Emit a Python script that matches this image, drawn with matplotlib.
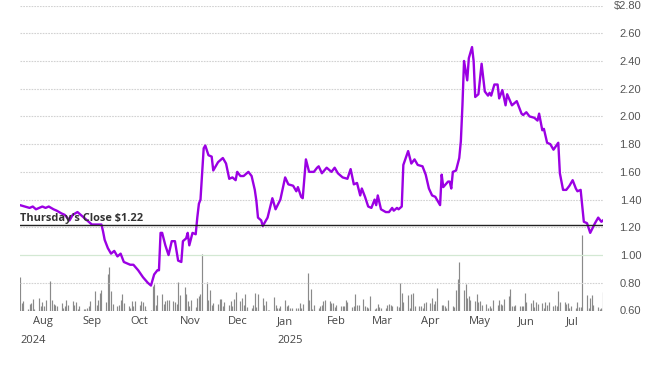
import matplotlib
matplotlib.use("Agg")
import matplotlib.pyplot as plt
import matplotlib.dates as mdates
import numpy as np
import pandas as pd

# closing prices (irregular sample of the daily series)
price_dates = [
    "2024-07-24", "2024-07-27", "2024-07-30", "2024-08-01", "2024-08-03", "2024-08-07", "2024-08-09", "2024-08-11", "2024-08-14", "2024-08-16",
    "2024-08-19", "2024-08-21", "2024-08-24", "2024-08-26", "2024-08-29", "2024-09-01", "2024-09-04", "2024-09-07", "2024-09-10", "2024-09-13",
    "2024-09-14", "2024-09-15", "2024-09-17", "2024-09-19", "2024-09-21", "2024-09-23", "2024-09-25", "2024-09-27", "2024-09-29", "2024-10-01",
    "2024-10-03", "2024-10-06", "2024-10-09", "2024-10-12", "2024-10-14", "2024-10-16", "2024-10-18", "2024-10-19", "2024-10-20", "2024-10-21",
    "2024-10-23", "2024-10-25", "2024-10-27", "2024-10-29", "2024-10-31", "2024-11-02", "2024-11-03", "2024-11-05", "2024-11-06", "2024-11-07",
    "2024-11-09", "2024-11-11", "2024-11-12", "2024-11-13", "2024-11-14", "2024-11-16", "2024-11-17", "2024-11-19", "2024-11-21", "2024-11-22",
    "2024-11-24", "2024-11-25", "2024-11-28", "2024-11-30", "2024-12-02", "2024-12-04", "2024-12-06", "2024-12-07", "2024-12-09", "2024-12-11",
    "2024-12-14", "2024-12-16", "2024-12-18", "2024-12-19", "2024-12-20", "2024-12-22", "2024-12-23", "2024-12-26", "2024-12-29", "2024-12-31",
    "2025-01-03", "2025-01-06", "2025-01-08", "2025-01-11", "2025-01-13", "2025-01-14", "2025-01-16", "2025-01-17", "2025-01-19", "2025-01-21",
    "2025-01-24", "2025-01-26", "2025-01-27", "2025-01-29", "2025-02-01", "2025-02-04", "2025-02-06", "2025-02-08", "2025-02-11", "2025-02-14",
    "2025-02-16", "2025-02-18", "2025-02-20", "2025-02-22", "2025-02-23", "2025-02-25", "2025-02-27", "2025-03-01", "2025-03-03", "2025-03-04",
    "2025-03-05", "2025-03-07", "2025-03-10", "2025-03-12", "2025-03-14", "2025-03-15", "2025-03-17", "2025-03-18", "2025-03-20", "2025-03-21",
    "2025-03-24", "2025-03-26", "2025-03-28", "2025-03-30", "2025-04-02", "2025-04-04", "2025-04-06", "2025-04-08", "2025-04-10", "2025-04-13",
    "2025-04-14", "2025-04-15", "2025-04-18", "2025-04-19", "2025-04-20", "2025-04-21", "2025-04-23", "2025-04-25", "2025-04-26", "2025-04-27",
    "2025-04-28", "2025-04-30", "2025-05-01", "2025-05-03", "2025-05-04", "2025-05-05", "2025-05-07", "2025-05-09", "2025-05-11", "2025-05-13",
    "2025-05-14", "2025-05-15", "2025-05-17", "2025-05-19", "2025-05-20", "2025-05-22", "2025-05-24", "2025-05-25", "2025-05-28", "2025-05-31",
    "2025-06-03", "2025-06-04", "2025-06-06", "2025-06-08", "2025-06-11", "2025-06-13", "2025-06-14", "2025-06-16", "2025-06-17", "2025-06-19",
    "2025-06-21", "2025-06-23", "2025-06-26", "2025-06-27", "2025-06-29", "2025-07-01", "2025-07-03", "2025-07-05", "2025-07-07", "2025-07-08",
    "2025-07-10", "2025-07-12", "2025-07-14", "2025-07-16", "2025-07-19", "2025-07-21", "2025-07-23", "2025-07-24",
]
price_values = [
    1.36, 1.35, 1.34, 1.35, 1.33, 1.35, 1.34, 1.35, 1.33, 1.32,
    1.30, 1.29, 1.25, 1.29, 1.31, 1.28, 1.25, 1.22, 1.22, 1.22,
    1.17, 1.11, 1.05, 1.01, 1.03, 0.99, 1.01, 0.95, 0.94, 0.93,
    0.93, 0.89, 0.84, 0.80, 0.78, 0.86, 0.89, 0.89, 1.16, 1.16,
    1.07, 1.00, 1.10, 1.10, 0.96, 0.95, 1.10, 1.12, 1.16, 1.07,
    1.16, 1.15, 1.27, 1.37, 1.40, 1.77, 1.79, 1.72, 1.71, 1.61,
    1.65, 1.67, 1.70, 1.66, 1.55, 1.56, 1.54, 1.60, 1.57, 1.57,
    1.60, 1.57, 1.47, 1.39, 1.27, 1.25, 1.21, 1.27, 1.41, 1.33,
    1.40, 1.56, 1.51, 1.50, 1.46, 1.49, 1.42, 1.41, 1.69, 1.60,
    1.60, 1.63, 1.64, 1.59, 1.63, 1.60, 1.63, 1.59, 1.56, 1.55,
    1.62, 1.51, 1.52, 1.43, 1.48, 1.42, 1.35, 1.34, 1.40, 1.36,
    1.43, 1.33, 1.31, 1.31, 1.34, 1.32, 1.34, 1.33, 1.35, 1.65,
    1.75, 1.66, 1.69, 1.65, 1.64, 1.58, 1.48, 1.43, 1.42, 1.36,
    1.58, 1.49, 1.53, 1.53, 1.48, 1.60, 1.61, 1.70, 1.82, 2.08,
    2.40, 2.26, 2.42, 2.50, 2.40, 2.14, 2.16, 2.38, 2.18, 2.15,
    2.17, 2.15, 2.23, 2.23, 2.13, 2.19, 2.08, 2.16, 2.08, 2.11,
    2.02, 2.01, 2.03, 2.00, 1.99, 1.97, 2.02, 1.90, 1.91, 1.81,
    1.80, 1.76, 1.81, 1.59, 1.47, 1.47, 1.50, 1.54, 1.48, 1.46,
    1.47, 1.24, 1.23, 1.16, 1.23, 1.27, 1.24, 1.25,
]

# daily volume (thousands), one per trading day from 2024-07-24 to 2025-07-24
volume = [
    333, 77, 93, 20, 63, 80, 120, 17, 130, 43, 83, 43, 110, 293, 110, 63, 53, 47, 77, 27,
    43, 110, 53, 93, 53, 87, 20, 43, 20, 20, 27, 50, 97, 197, 60, 103, 177, 203, 87, 363,
    437, 193, 63, 43, 60, 110, 163, 80, 43, 27, 93, 43, 93, 53, 93, 87, 43, 10, 10, 250,
    270, 53, 153, 163, 63, 93, 110, 110, 97, 87, 70, 283, 160, 237, 163, 97, 43, 110, 37, 130,
    143, 163, 570, 283, 110, 203, 60, 77, 70, 120, 113, 43, 87, 53, 97, 43, 120, 183, 93, 127,
    53, 163, 37, 27, 53, 177, 37, 170, 130, 53, 93, 10, 10, 133, 53, 27, 27, 43, 103, 43,
    60, 27, 27, 27, 27, 77, 27, 70, 377, 103, 213, 20, 53, 27, 43, 60, 97, 103, 93,
    77, 77, 37, 53, 43, 43, 43, 103, 87, 37, 50, 163, 53, 53, 120, 43, 37, 27, 143, 20,
    27, 63, 37, 27, 27, 53, 63, 60, 43, 43, 37, 277, 177, 87, 153, 27, 163, 177, 43, 43,
    43, 27, 77, 87, 77, 127, 70, 93, 227, 60, 60, 43, 27, 110, 43, 37, 210, 320, 483, 203,
    263, 127, 143, 103, 97, 163, 87, 93, 60, 70, 27, 43, 27, 103, 60, 103, 70, 53, 120, 143,
    213, 43, 43, 60, 43, 43, 43, 177, 87, 77, 103, 37, 87, 70, 77, 27, 87, 53, 87, 43,
    53, 43, 193, 87, 87, 70, 77, 27, 43, 27, 87, 37, 37, 755, 153, 27, 130, 153, 53, 37,
    20, 27, 183,
]

close_price = 1.22
close_label = "Thursday's Close $1.22"
price_ticks = [0.60, 0.80, 1.00, 1.20, 1.40, 1.60, 1.80, 2.00, 2.20, 2.40, 2.60, 2.80]
price_tick_labels = ["0.60", "0.80", "1.00", "1.20", "1.40", "1.60", "1.80",
                     "2.00", "2.20", "2.40", "2.60", "$2.80"]

plt.rcParams['font.family'] = ['Open Sans', 'DejaVu Sans']

dates = pd.to_datetime(price_dates)
vol_dates = pd.bdate_range("2024-07-24", "2025-07-24")
start = pd.Timestamp("2024-07-24")
end = pd.Timestamp("2025-07-24")

fig = plt.figure(figsize=(6.66, 3.65), dpi=100)
ax = fig.add_axes([20 / 666, 1 - 310.5 / 365, 583 / 666, 305 / 365])

# volume on its own hidden scale underneath
ax2 = ax.twinx()
ax2.vlines(vol_dates, 0, volume, color="#8a8a8a", lw=0.85)
ax2.set_ylim(0, 3050)
ax2.axis("off")
ax.set_zorder(ax2.get_zorder() + 1)
ax.patch.set_visible(False)

for t in price_ticks:
    if abs(t - 1.0) < 1e-9:
        ax.axhline(t, color="#d3e8d3", lw=0.9, zorder=0)
    else:
        ax.axhline(t, color="#d2d2d2", lw=0.8, ls=(0, (1.5, 1)), zorder=0)

ax.plot(dates, price_values, color="#9b00e3", lw=1.7, solid_joinstyle="round", zorder=3)

ax.axhline(close_price, color="#222222", lw=1.0, zorder=4)
ax.annotate(close_label, xy=(start, close_price), xytext=(0, 2.2), textcoords="offset points",
            ha="left", va="baseline", fontsize=7.9, fontweight="bold", color="#333333", zorder=5)

ax.set_xlim(start, end)
ax.set_ylim(0.60, 2.80)

ax.yaxis.tick_right()
ax.set_yticks(price_ticks, labels=price_tick_labels, ha="right",
              fontfamily="Liberation Sans", fontsize=8, color="#555555")
ax.tick_params(axis="y", length=0, pad=27.5)

ax.xaxis.set_major_locator(mdates.MonthLocator())
ax.xaxis.set_major_formatter(mdates.DateFormatter("%b"))
ax.tick_params(axis="x", length=0, pad=4, labelsize=8, labelcolor="#444444")
for lbl in ax.get_xticklabels():
    lbl.set_ha("left")

for s in ax.spines.values():
    s.set_visible(False)

# year markers under the month labels
ax.text(start, -0.08, "2024", transform=ax.get_xaxis_transform(), ha="left", va="top",
        fontsize=8, color="#444444")
ax.text(pd.Timestamp("2025-01-01"), -0.08, "2025", transform=ax.get_xaxis_transform(),
        ha="left", va="top", fontsize=8, color="#444444")

fig.savefig("out.png", dpi=100)
